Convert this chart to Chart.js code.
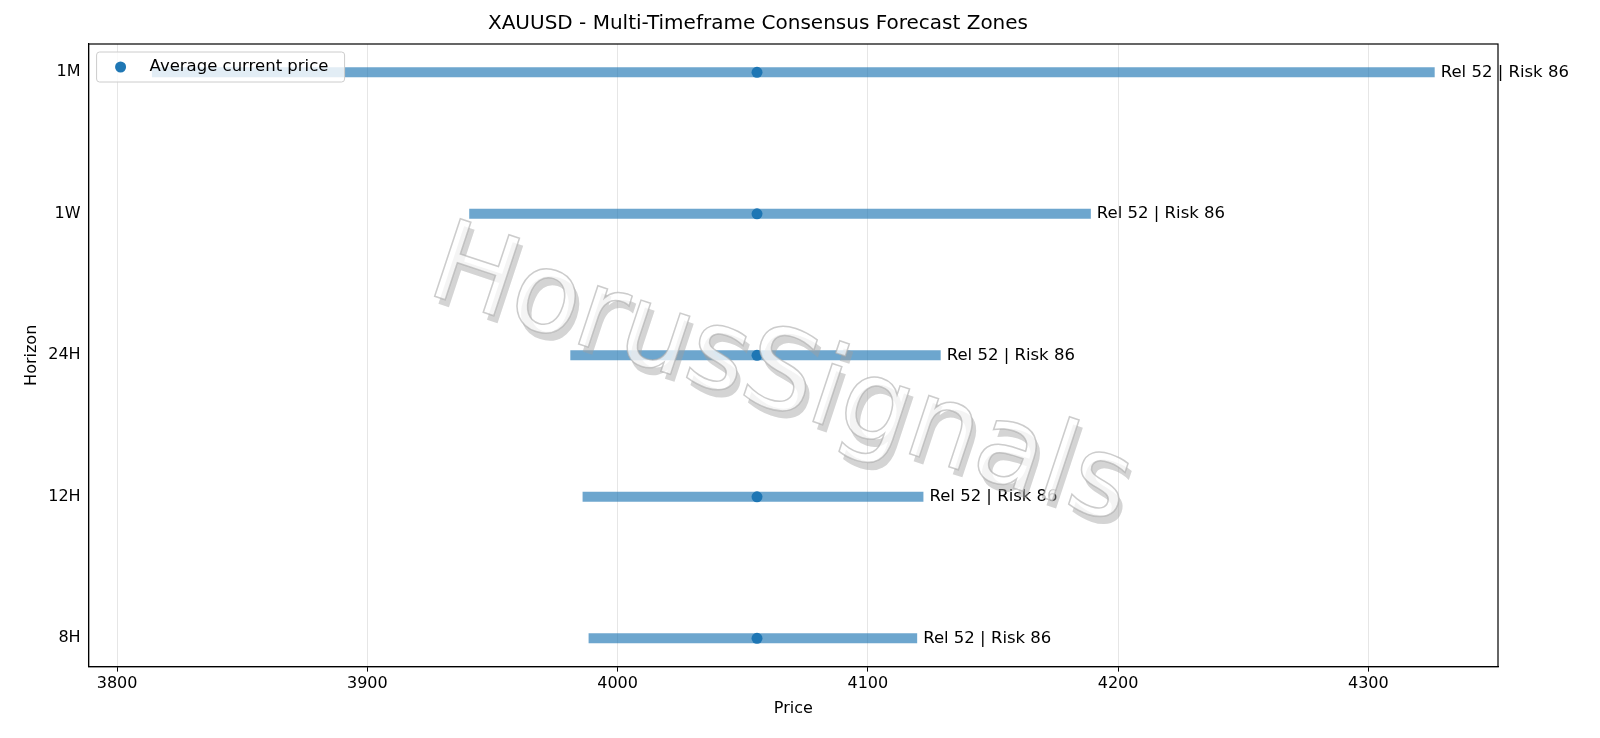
<!DOCTYPE html>
<html><head><meta charset="utf-8">
<script src="https://cdn.jsdelivr.net/npm/chart.js@4"></script>
<style>body{margin:0;background:#fff}#wrap{width:1600px;height:738px}</style>
</head><body><div id="wrap"><canvas id="c"></canvas></div>
<script>
'use strict';
let horizons=['8H','12H','24H','1W','1M'];
let lowValues=[3988.4,3986,3981.1,3940.7,3813.9];
let highValues=[4119.7,4122.2,4129.1,4189.1,4326.5];
let currentPrice=4055.7;
let zoneLabels=['Rel 52 | Risk 86','Rel 52 | Risk 86','Rel 52 | Risk 86','Rel 52 | Risk 86','Rel 52 | Risk 86'];
let xTicks=[3800,3900,4000,4100,4200,4300];

let datasets=[];
for(let i=0;i<horizons.length;i++){
  datasets.push({type:'line',data:[{x:lowValues[i],y:i},{x:highValues[i],y:i}],
    borderColor:'rgba(31,119,180,0.65)',borderWidth:10,borderCapStyle:'butt',pointRadius:0,label:'zone'});
}
datasets.push({type:'scatter',label:'Average current price',
  data:horizons.map((h,i)=>({x:currentPrice,y:i})),backgroundColor:'#1f77b4',pointRadius:5.5,borderWidth:0});

let overlay={
  id:'overlay',
  afterDatasetsDraw(chart){
    let ctx=chart.ctx, xs=chart.scales.x, ys=chart.scales.y, a=chart.chartArea;
    ctx.save();
    ctx.strokeStyle='#000';ctx.lineWidth=1.2;
    ctx.strokeRect(a.left,a.top,a.right-a.left,a.bottom-a.top);
    ctx.font='16.5px "DejaVu Sans"';ctx.fillStyle='#000';ctx.textBaseline='middle';
    for(let i=0;i<horizons.length;i++){
      ctx.fillText(zoneLabels[i],xs.getPixelForValue(highValues[i])+6,ys.getPixelForValue(i));
    }
    // watermark
    ctx.translate(780,380);ctx.rotate(0.32);
    ctx.font='112px "DejaVu Sans"';ctx.textAlign='center';ctx.textBaseline='middle';
    ctx.fillStyle='rgba(160,160,160,0.45)';ctx.fillText('HorusSignals',6,6);
    ctx.fillStyle='rgba(255,255,255,0.75)';ctx.fillText('HorusSignals',0,0);
    ctx.strokeStyle='rgba(170,170,170,0.6)';ctx.lineWidth=1.5;ctx.strokeText('HorusSignals',0,0);
    ctx.restore();
    // legend
    ctx.save();
    ctx.fillStyle='rgba(255,255,255,0.8)';ctx.strokeStyle='#ccc';ctx.lineWidth=1;
    ctx.beginPath();ctx.roundRect(a.left+8,a.top+8,248,30,3);ctx.fill();ctx.stroke();
    ctx.fillStyle='#1f77b4';ctx.beginPath();ctx.arc(a.left+32,a.top+23,5.5,0,Math.PI*2);ctx.fill();
    ctx.fillStyle='#000';ctx.font='16.5px "DejaVu Sans"';ctx.textBaseline='middle';
    ctx.fillText('Average current price',a.left+61,a.top+23);
    ctx.restore();
  }
};

new Chart(document.getElementById('c'),{
  data:{datasets:datasets},
  plugins:[overlay],
  options:{responsive:true,maintainAspectRatio:false,animation:false,
    layout:{padding:{left:18,right:102,top:4,bottom:16}},
    plugins:{legend:{display:false},tooltip:{enabled:false},
      title:{display:true,text:'XAUUSD - Multi-Timeframe Consensus Forecast Zones',color:'#000',
        font:{family:'DejaVu Sans',size:20,weight:'normal'},padding:{top:8,bottom:8}}},
    scales:{
      x:{type:'linear',min:3788.6,max:4351.8,
        afterBuildTicks(s){s.ticks=xTicks.map(v=>({value:v}));},
        grid:{color:'#e6e6e6',drawTicks:true,tickColor:'#000',tickLength:5},
        border:{color:'#000',width:1.2},
        ticks:{color:'#000',font:{family:'DejaVu Sans',size:16},callback:v=>String(v)},
        title:{display:true,text:'Price',color:'#000',font:{family:'DejaVu Sans',size:16},padding:{top:2}}},
      y:{type:'linear',min:-0.2,max:4.2,
        afterBuildTicks(s){s.ticks=horizons.map((h,i)=>({value:i}));},
        grid:{display:false,drawOnChartArea:false,drawTicks:true,tickColor:'#000',tickLength:5},
        border:{color:'#000',width:1.2},
        ticks:{color:'#000',font:{family:'DejaVu Sans',size:16},callback:v=>horizons[v]},
        title:{display:true,text:'Horizon',color:'#000',font:{family:'DejaVu Sans',size:16}}}
    }
  }
});
</script></body></html>
